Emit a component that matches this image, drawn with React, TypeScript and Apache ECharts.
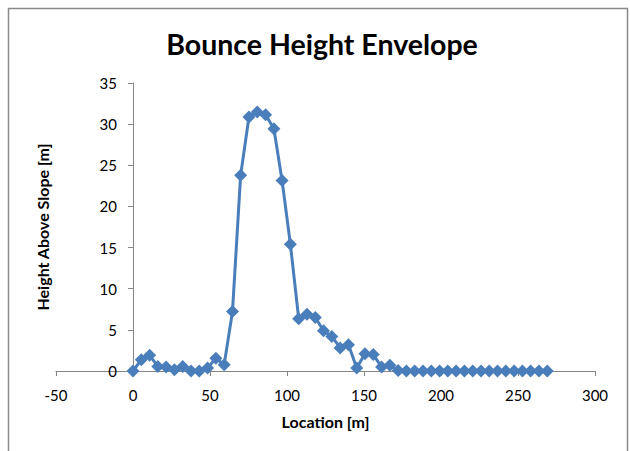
import React, { useEffect, useRef } from "react";
import * as echarts from "echarts";

const titleText = "Bounce Height Envelope";
const xName = "Location [m]";
const yName = "Height Above Slope [m]";

const locations = [
  0, 5.4, 10.8, 16.1, 21.5, 26.9, 32.3, 37.7, 43.0, 48.4, 53.8, 59.2, 64.6,
  69.9, 75.3, 80.7, 86.1, 91.5, 96.8, 102.2, 107.6, 113.0, 118.4, 123.7, 129.1,
  134.5, 139.9, 145.3, 150.6, 156.0, 161.4, 166.8, 172.2, 177.5, 182.9, 188.3,
  193.7, 199.1, 204.4, 209.8, 215.2, 220.6, 226.0, 231.3, 236.7, 242.1, 247.5,
  252.9, 258.2, 263.6, 269.0,
];

const heights = [
  0, 1.37, 1.9, 0.56, 0.5, 0.15, 0.56, 0, 0, 0.35, 1.55, 0.75, 7.24, 23.8,
  30.86, 31.47, 31.14, 29.44, 23.16, 15.4, 6.35, 6.9, 6.5, 4.9, 4.2, 2.8, 3.2,
  0.36, 2.1, 2.0, 0.5, 0.7, 0.07, 0, 0, 0, 0, 0, 0, 0, 0, 0, 0, 0, 0, 0, 0, 0,
  0, 0, 0,
];

const xMin = -50;
const xMax = 300;
const xStep = 50;
const yMin = 0;
const yMax = 35;
const yStep = 5;

const FONT = "Lato, 'Open Sans', sans-serif";

export default function App() {
  const ref = useRef<HTMLDivElement>(null);

  useEffect(() => {
    if (!ref.current) return;
    const chart = echarts.init(ref.current, undefined, { renderer: "svg" });
    const axisColor = "#868686";
    chart.setOption({
      animation: false,
      backgroundColor: "#ffffff",
      graphic: [
        {
          type: "rect",
          shape: { x: 8.5, y: 8.5, width: 619, height: 460 },
          style: { fill: "none", stroke: "#8a8a8a", lineWidth: 1.5 },
          silent: true,
        },
        {
          type: "text",
          x: 322,
          y: 44,
          style: {
            text: titleText,
            fontSize: 28.5,
            fontWeight: "bold",
            fontFamily: FONT,
            fill: "#000",
            textAlign: "center",
            textVerticalAlign: "middle",
          },
        },
      ],
      grid: {
        left: 56,
        right: 35,
        top: 83,
        bottom: 80,
        containLabel: false,
        outerBoundsMode: "none",
      },
      xAxis: {
        type: "value",
        min: xMin,
        max: xMax,
        interval: xStep,
        name: xName,
        nameLocation: "middle",
        nameGap: 42,
        nameMoveOverlap: false,
        nameTextStyle: {
          fontSize: 16,
          fontWeight: "bold",
          fontFamily: FONT,
          color: "#000",
        },
        splitLine: { show: false },
        axisLine: { show: true, lineStyle: { color: axisColor, width: 1 } },
        axisTick: { show: true, inside: false, length: 5, lineStyle: { color: axisColor } },
        axisLabel: { fontSize: 15, fontFamily: FONT, color: "#000", margin: 16 },
      },
      yAxis: {
        type: "value",
        min: yMin,
        max: yMax,
        interval: yStep,
        name: yName,
        nameLocation: "middle",
        nameGap: 6,
        nameMoveOverlap: false,
        nameTextStyle: {
          fontSize: 16,
          fontWeight: "bold",
          fontFamily: FONT,
          color: "#000",
        },
        splitLine: { show: false },
        axisLine: { show: true, onZero: true, lineStyle: { color: axisColor, width: 1 } },
        axisTick: { show: true, inside: false, length: 5, lineStyle: { color: axisColor } },
        axisLabel: { fontSize: 15, fontFamily: FONT, color: "#000", margin: -61 },
      },
      series: [
        {
          type: "line",
          data: locations.map((x, i) => [x, heights[i]]),
          symbol: "diamond",
          symbolSize: [13, 13],
          showAllSymbol: true,
          lineStyle: { color: "#4A7EBB", width: 3 },
          itemStyle: { color: "#4A7EBB" },
          z: 3,
        },
      ],
    });
    return () => chart.dispose();
  }, []);

  return (
    <div
      ref={ref}
      style={{ position: "fixed", left: 0, top: 0, width: 630, height: 451 }}
    />
  );
}
